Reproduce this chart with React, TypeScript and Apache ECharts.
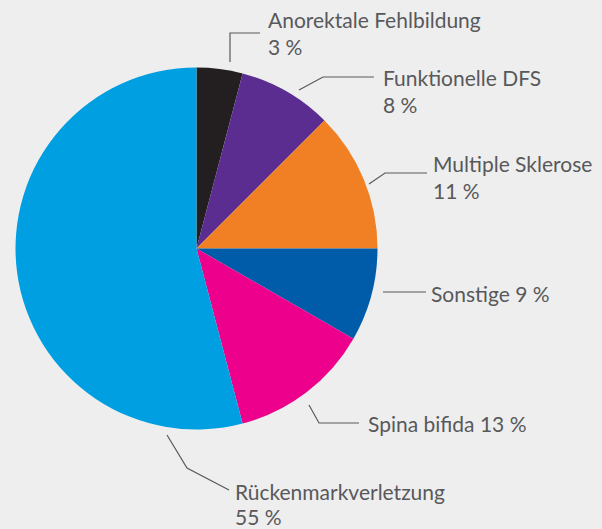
import React, { useEffect, useRef } from "react";
import * as echarts from "echarts";

const categories = [
  "Anorektale Fehlbildung",
  "Funktionelle DFS",
  "Multiple Sklerose",
  "Sonstige",
  "Spina bifida",
  "Rückenmarkverletzung",
];
const shares = [4.1, 8.4, 12.5, 8.3, 12.6, 54.1];
// percentages printed in the labels
const labelPercents = ["3 %", "8 %", "11 %", "9 %", "13 %", "55 %"];
const twoLineLabel = [true, true, true, false, false, true];
const colors = ["#231f20", "#5c2d91", "#f08023", "#005ca9", "#ec008c", "#009fe1"];

const labelPos = [
  { x: 268, y: 33, lh: 27, pts: [[230, 62], [230, 33], [260, 33]] },
  { x: 383, y: 91, lh: 27, pts: [[299, 90], [323, 77], [374, 77]] },
  { x: 433, y: 176.5, lh: 27, pts: [[369, 184], [385, 173], [427, 173]] },
  { x: 431, y: 293, lh: 27, pts: [[383, 292], [426, 292]] },
  { x: 368, y: 423, lh: 27, pts: [[309, 405], [319, 423], [359, 423]] },
  { x: 235, y: 503.5, lh: 25, pts: [[167, 435], [187, 468], [229, 490]] },
];

export default function App() {
  const ref = useRef<HTMLDivElement>(null);
  useEffect(() => {
    document.body.style.margin = "0";
    const chart = echarts.init(ref.current!, undefined, { renderer: "svg" });
    chart.setOption({
      animation: false,
      backgroundColor: "#eeeeee",
      series: [
        {
          type: "pie",
          center: [196.5, 248.5],
          radius: 181,
          startAngle: 90,
          clockwise: true,
          avoidLabelOverlap: false,
          data: categories.map((name, i) => ({
            name,
            value: shares[i],
            itemStyle: { color: colors[i] },
            label: { lineHeight: labelPos[i].lh },
          })),
          label: {
            show: true,
            color: "#58595b",
            fontFamily: "Lato",
            fontSize: 21,
            lineHeight: 27,
            align: "left",
            formatter: (p: any) =>
              twoLineLabel[p.dataIndex]
                ? `${p.name}\n${labelPercents[p.dataIndex]}`
                : `${p.name} ${labelPercents[p.dataIndex]}`,
          },
          labelLine: {
            show: true,
            lineStyle: { color: "#58595b", width: 1.2 },
          },
          labelLayout: (params: any) => {
            const lp = labelPos[params.dataIndex];
            return {
              x: lp.x,
              y: lp.y,
              align: "left",
              verticalAlign: "middle",
              labelLinePoints: lp.pts,
            };
          },
          emphasis: { disabled: true },
        },
      ],
    });
    return () => chart.dispose();
  }, []);
  return <div ref={ref} style={{ width: 602, height: 529 }} />;
}
